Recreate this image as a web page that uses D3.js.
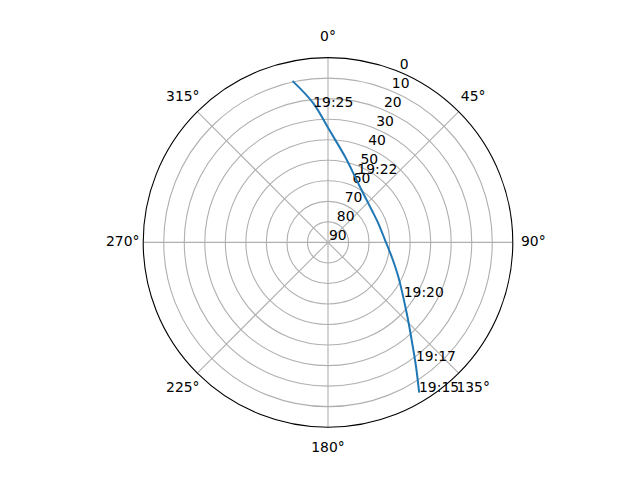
<!DOCTYPE html>
<html>
<head>
<meta charset="utf-8">
<script src="https://cdn.jsdelivr.net/npm/d3@7"></script>
<style>
  html, body { margin: 0; padding: 0; background: #fff; }
  svg { display: block; }
  text { font-family: "DejaVu Sans", sans-serif; font-size: 13.9px; fill: #000; }
</style>
</head>
<body>
<svg id="chart" width="640" height="480"></svg>
<script>
// Track: azimuth (deg, clockwise from north) and elevation (deg)
const trackAz = [148.6, 144.7, 139.4, 132.0, 116.0, 102.7, 87.6, 69.2, 53.4, 39.0, 27.1, 11.2, 0.7, 354.0, 347.8];
const trackEl = [4.9, 15.8, 27.4, 38.4, 51.9, 58.2, 62.2, 63.8, 63.5, 61.4, 57.7, 47.4, 35.3, 21.9, 9.9];

// Time annotations
const timeLabels = ["19:15", "19:17", "19:20", "19:22", "19:25"];
const timeAz = [148.6, 143.4, 125.7, 23.3, 353.8];
const timeEl = [4.9, 18.2, 44.6, 53.9, 23.5];

// Axis ticks
const rTicks = [0, 10, 20, 30, 40, 50, 60, 70, 80, 90];
const thetaTicks = [0, 45, 90, 135, 180, 225, 270, 315];
const rLabelAngle = 22.5;

const svg = d3.select("#chart");
const cx = 328, cy = 242.4, R = 184.8;
const g = svg.append("g").attr("transform", `translate(${cx},${cy})`);

const r = d3.scaleLinear().domain([90, 0]).range([0, R]);
const a = d3.scaleLinear().domain([0, 360]).range([0, 2 * Math.PI]);

const px = (az, el) => r(el) * Math.sin(a(az));
const py = (az, el) => -r(el) * Math.cos(a(az));

// Ring gridlines
g.selectAll("circle.grid").data(rTicks.filter(d => d > 0 && d < 90)).enter()
  .append("circle").attr("class", "grid")
  .attr("r", d => r(d)).attr("fill", "none")
  .attr("stroke", "#b0b0b0").attr("stroke-width", 1.1);

// Spoke gridlines
g.selectAll("line.spoke").data(thetaTicks).enter()
  .append("line").attr("class", "spoke")
  .attr("x1", 0).attr("y1", 0)
  .attr("x2", d => R * Math.sin(a(d))).attr("y2", d => -R * Math.cos(a(d)))
  .attr("stroke", "#b0b0b0").attr("stroke-width", 1.1);

// Outer spine
g.append("circle").attr("r", R).attr("fill", "none")
  .attr("stroke", "#000").attr("stroke-width", 1.1);

// Angular tick labels
g.selectAll("text.theta").data(thetaTicks).enter()
  .append("text").attr("class", "theta")
  .attr("x", d => (R + 20.5) * Math.sin(a(d)))
  .attr("y", d => -(R + 20.5) * Math.cos(a(d)) + 4)
  .attr("text-anchor", "middle")
  .text(d => d + "°");

// Radial tick labels
g.selectAll("text.rlab").data(rTicks).enter()
  .append("text").attr("class", "rlab")
  .attr("x", d => px(rLabelAngle, d) + 1)
  .attr("y", d => py(rLabelAngle, d) - 2.5)
  .attr("text-anchor", "start")
  .text(d => d);

// Track line
const pts = trackAz.map((az, i) => [a(az), r(trackEl[i])]);
const line = d3.lineRadial().angle(d => d[0]).radius(d => d[1]).curve(d3.curveCatmullRom.alpha(0.5));
g.append("path").datum(pts).attr("d", line)
  .attr("fill", "none").attr("stroke", "#1f77b4").attr("stroke-width", 2)
  .attr("stroke-linecap", "square");

// Time labels
g.selectAll("text.time").data(timeLabels).enter()
  .append("text").attr("class", "time")
  .attr("x", (d, i) => px(timeAz[i], timeEl[i]))
  .attr("y", (d, i) => py(timeAz[i], timeEl[i]))
  .attr("text-anchor", "start")
  .text(d => d);
</script>
</body>
</html>
